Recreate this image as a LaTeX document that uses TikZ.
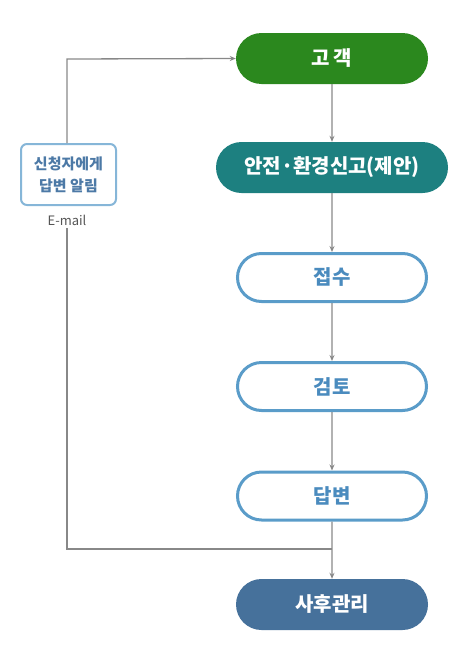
\documentclass[tikz,border=0pt]{standalone}
\usepackage{fontspec}
\setmainfont{Noto Sans CJK KR}
\usetikzlibrary{shapes.misc,arrows.meta}
\definecolor{cgreen}{HTML}{2B881E}
\definecolor{cteal}{HTML}{1D8080}
\definecolor{cblue}{HTML}{5A9CC9}
\definecolor{cbluetext}{HTML}{4A8BBE}
\definecolor{cnavy}{HTML}{46719B}
\definecolor{cline}{HTML}{888888}
\definecolor{cbox}{HTML}{86B6D8}
\definecolor{cboxtext}{HTML}{4C79A6}
\definecolor{cgraytext}{HTML}{555555}
\tikzset{
  pill/.style={rounded rectangle, minimum height=51pt, minimum width=192pt, inner sep=0pt, font=\fontsize{20}{24}\selectfont\bfseries},
  filledpill/.style={pill, fill=#1, draw=none, text=white},
  linepill/.style={rounded rectangle, minimum height=48pt, minimum width=189pt, inner sep=0pt, draw=cblue, line width=3pt, fill=white, text=cbluetext, font=\fontsize{20}{24}\selectfont\bfseries},
  conn/.style={draw=cline, line width=1.3pt, -{Stealth[length=6pt,width=5pt]}},
  plain/.style={draw=cline, line width=1.3pt},
}
\begin{document}
\begin{tikzpicture}[x=1pt,y=-1pt]
\useasboundingbox (0,0) rectangle (455,664);
\node[filledpill=cgreen] (n1) at (332,58.5) {고\,객};
\node[filledpill=cteal, minimum width=232pt] (n2) at (332,167.5) {안전·환경신고(제안)};
\node[linepill] (n3) at (332,277.5) {접수};
\node[linepill] (n4) at (332,386.5) {검토};
\node[linepill] (n5) at (332,496) {답변};
\node[filledpill=cnavy] (n6) at (332,604.5) {사후관리};
\node[draw=cbox, line width=2pt, rounded corners=6pt, fill=white, minimum width=95pt, minimum height=61pt, inner sep=0pt, align=center, text=cboxtext, font=\fontsize{15}{22}\selectfont\bfseries] (bx) at (68.5,174.5) {신청자에게\\답변 알림};
\node[text=cgraytext, font=\fontsize{13}{15}\selectfont, inner sep=2pt] (em) at (67,220) {E-mail};
\coordinate (tl) at (67,59);
\coordinate (bl) at (67,549);
\coordinate (jn) at (332,549);
\draw[conn] (n1) -- (n2);
\draw[conn] (n2) -- (n3);
\draw[conn] (n3) -- (n4);
\draw[conn] (n4) -- (n5);
\draw[conn] (n5) -- (n6);
\draw[conn] (bx.north -| tl) -- (tl) -- (n1.west);
\draw[plain] (em.south -| bl) ++(0,1) -- (bl) -- (jn);
\end{tikzpicture}
\end{document}
